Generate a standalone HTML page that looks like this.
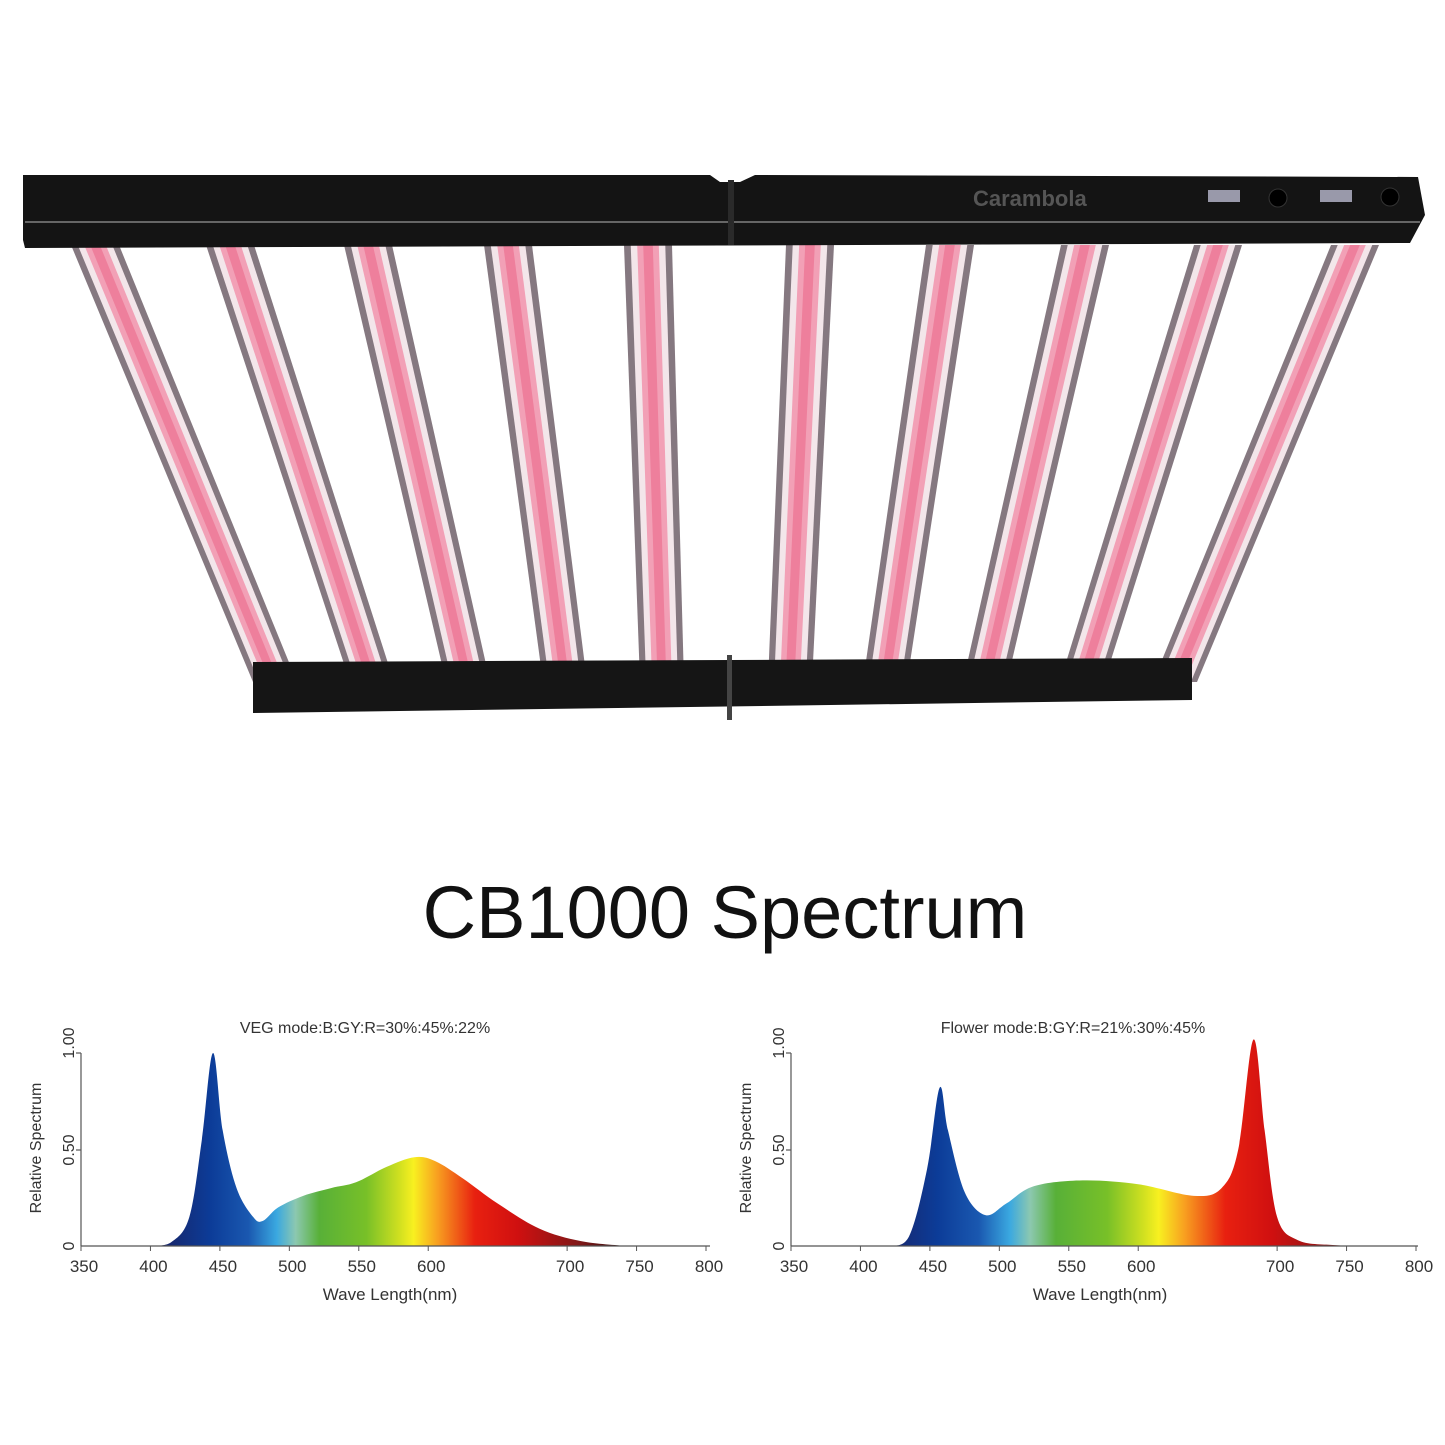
<!DOCTYPE html>
<html><head><meta charset="utf-8"><style>
html,body{margin:0;padding:0;background:#fff;}
svg{display:block;}
text{font-family:"Liberation Sans","DejaVu Sans",sans-serif;}
</style></head><body>
<svg id="s" width="1445" height="1445" viewBox="0 0 1445 1445" xmlns="http://www.w3.org/2000/svg">
<defs>
<linearGradient id="g1" gradientUnits="userSpaceOnUse" x1="154" x2="626" y1="0" y2="0">
<stop offset="0" stop-color="#1a2060"/><stop offset="0.12" stop-color="#0c3c98"/>
<stop offset="0.2" stop-color="#1a58b0"/><stop offset="0.26" stop-color="#3aa8e0"/>
<stop offset="0.3" stop-color="#8cc8b0"/><stop offset="0.35" stop-color="#58b038"/>
<stop offset="0.45" stop-color="#78c028"/><stop offset="0.52" stop-color="#d0e020"/>
<stop offset="0.55" stop-color="#f8f020"/><stop offset="0.6" stop-color="#f8a020"/>
<stop offset="0.68" stop-color="#e82010"/><stop offset="0.77" stop-color="#d01010"/>
<stop offset="0.9" stop-color="#801818"/><stop offset="1" stop-color="#301010"/>
</linearGradient>
<linearGradient id="g2" gradientUnits="userSpaceOnUse" x1="876" x2="1390" y1="0" y2="0">
<stop offset="0" stop-color="#1a2060"/><stop offset="0.12" stop-color="#0c3c98"/>
<stop offset="0.2" stop-color="#1a58b0"/><stop offset="0.26" stop-color="#3aa8e0"/>
<stop offset="0.3" stop-color="#8cc8b0"/><stop offset="0.35" stop-color="#58b038"/>
<stop offset="0.45" stop-color="#78c028"/><stop offset="0.52" stop-color="#d0e020"/>
<stop offset="0.55" stop-color="#f8f020"/><stop offset="0.6" stop-color="#f8a020"/>
<stop offset="0.68" stop-color="#e82010"/><stop offset="0.77" stop-color="#d01010"/>
<stop offset="0.9" stop-color="#801818"/><stop offset="1" stop-color="#301010"/>
</linearGradient>
</defs>
<g id="bars"></g>
<polygon points="253,662 1192,658 1192,700 253,713" fill="#151515"/>
<rect x="727" y="655" width="5" height="65" fill="#444"/>
<polygon points="23,175 710,175 720,182 740,182 755,175 1418,177 1425,215 1410,243 25,248 23,240" fill="#141414"/>
<line x1="25" y1="222" x2="1420" y2="222" stroke="#666" stroke-width="2"/>
<rect x="728" y="180" width="6" height="65" fill="#2a2a2a"/>
<text x="973" y="206" font-size="22" fill="#555" font-weight="bold">Carambola</text>
<rect x="1208" y="190" width="32" height="12" fill="#99a"/>
<rect x="1320" y="190" width="32" height="12" fill="#99a"/>
<circle cx="1278" cy="198" r="9" fill="#000" stroke="#333"/>
<circle cx="1390" cy="197" r="9" fill="#000" stroke="#333"/>
<text x="725" y="938" font-size="74" text-anchor="middle" fill="#111">CB1000 Spectrum</text>
<path id="p1" fill="url(#g1)"/>
<path id="p2" fill="url(#g2)"/>
<g stroke="#555" stroke-width="1.2" fill="none">
<line x1="81" y1="1246" x2="710" y2="1246"/><line x1="81" y1="1053" x2="81" y2="1246"/>
<line x1="76" y1="1053" x2="81" y2="1053"/><line x1="76" y1="1150" x2="81" y2="1150"/>
<line x1="791" y1="1246" x2="1418" y2="1246"/><line x1="791" y1="1053" x2="791" y2="1246"/>
<line x1="786" y1="1053" x2="791" y2="1053"/><line x1="786" y1="1150" x2="791" y2="1150"/>
</g>
<g id="ticks"></g>
<text x="365" y="1033" font-size="16" text-anchor="middle" fill="#333">VEG  mode:B:GY:R=30%:45%:22%</text>
<text x="1073" y="1033" font-size="16" text-anchor="middle" fill="#333">Flower  mode:B:GY:R=21%:30%:45%</text>
<text x="390" y="1300" font-size="17" text-anchor="middle" fill="#333">Wave  Length(nm)</text>
<text x="1100" y="1300" font-size="17" text-anchor="middle" fill="#333">Wave  Length(nm)</text>
<text transform="translate(41,1148) rotate(-90)" font-size="16" text-anchor="middle" fill="#333">Relative  Spectrum</text>
<text transform="translate(751,1148) rotate(-90)" font-size="16" text-anchor="middle" fill="#333">Relative  Spectrum</text>
<g font-size="16" fill="#333" text-anchor="middle">
<text transform="translate(74,1043) rotate(-90)">1.00</text>
<text transform="translate(74,1150) rotate(-90)">0.50</text>
<text transform="translate(74,1246) rotate(-90)">0</text>
<text transform="translate(784,1043) rotate(-90)">1.00</text>
<text transform="translate(784,1150) rotate(-90)">0.50</text>
<text transform="translate(784,1246) rotate(-90)">0</text>
</g>
</svg>
<script>
var NS="http://www.w3.org/2000/svg";
var tops=[95,230,368,508,648,810,950,1085,1218,1355],bots=[275,372,468,565,662,790,885,985,1082,1175];
var g=document.getElementById('bars');
var layers=[[1.0,'#857880'],[0.72,'#f3e6ea'],[0.45,'#f2a0b6'],[0.2,'#ee7f9c']];
for(var i=0;i<10;i++){
 var t=tops[i],b=bots[i];
 layers.forEach(function(L){
  var w1=24*L[0],w2=22*L[0];
  var p=document.createElementNS(NS,'polygon');
  p.setAttribute('points',(t-w1)+',245 '+(t+w1)+',245 '+(b+w2)+',682 '+(b-w2)+',682');
  p.setAttribute('fill',L[1]);g.appendChild(p);
 });
 var c=document.createElementNS(NS,'rect');c.setAttribute('x',b-10);c.setAttribute('y',674);c.setAttribute('width',20);c.setAttribute('height',8);c.setAttribute('fill','#6040c0');g.appendChild(c);
}
function mk(id,x0,pts){
 var sx=function(w){return x0+(w-350)*1.3889;};
 var P=pts.map(function(q){return [sx(q[0]),1246-q[1]*193];});
 var d='M'+P[0][0]+',1246 L'+P[0][0]+','+P[0][1];
 for(var i=0;i<P.length-1;i++){
  var p0=P[Math.max(i-1,0)],p1=P[i],p2=P[i+1],p3=P[Math.min(i+2,P.length-1)];
  d+=' C'+(p1[0]+(p2[0]-p0[0])/6)+','+(p1[1]+(p2[1]-p0[1])/6)+' '+(p2[0]-(p3[0]-p1[0])/6)+','+(p2[1]-(p3[1]-p1[1])/6)+' '+p2[0]+','+p2[1];
 }
 d+=' Z';
 document.getElementById(id).setAttribute('d',d);
}
mk('p1',81,[[400,0],[415,0.02],[428,0.15],[437,0.55],[445,1.0],[452,0.6],[462,0.3],[474,0.15],[481,0.13],[492,0.2],[510,0.26],[530,0.3],[548,0.33],[570,0.41],[590,0.46],[605,0.44],[625,0.35],[650,0.22],[680,0.09],[710,0.025],[742,0]]);
mk('p2',791,[[420,0],[435,0.05],[448,0.4],[457,0.82],[463,0.6],[475,0.28],[490,0.16],[505,0.22],[525,0.31],[560,0.34],[600,0.32],[640,0.26],[660,0.3],[672,0.5],[683,1.07],[691,0.6],[700,0.15],[715,0.03],[740,0.005],[760,0]]);
var tg=document.getElementById('ticks');
[81,791].forEach(function(o){
 [350,400,450,500,550,600,700,750,800].forEach(function(w){
  var x=o+(w-350)*1.3889;
  var l=document.createElementNS(NS,'line');l.setAttribute('x1',x);l.setAttribute('x2',x);l.setAttribute('y1',1246);l.setAttribute('y2',1251);l.setAttribute('stroke','#555');tg.appendChild(l);
  var t=document.createElementNS(NS,'text');t.setAttribute('x',x+3);t.setAttribute('y',1272);t.setAttribute('font-size','17');t.setAttribute('text-anchor','middle');t.setAttribute('fill','#333');t.textContent=w;tg.appendChild(t);
 });
});
</script>
</body></html>
